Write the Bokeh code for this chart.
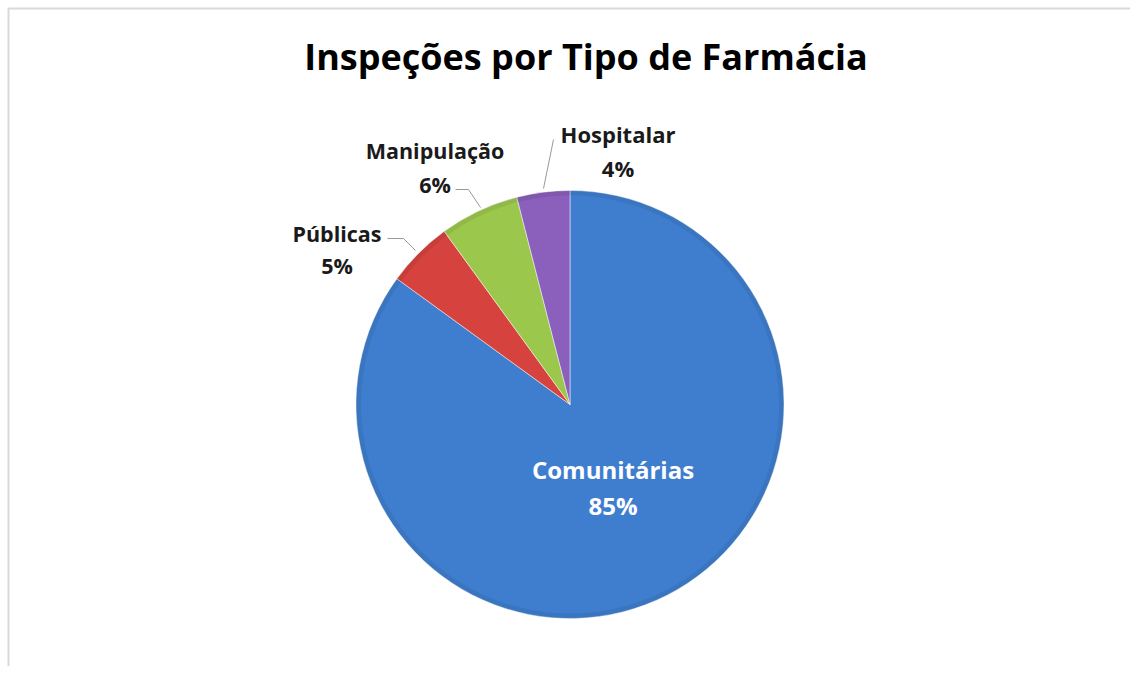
import numpy as np
from bokeh.plotting import figure
from bokeh.models import ColumnDataSource, Range1d
from bokeh.core.properties import value
from bokeh.embed import file_html
from bokeh.resources import INLINE

# ---- data ----
categories = ["Comunitárias", "Públicas", "Manipulação", "Hospitalar"]
percents = [85, 5, 6, 4]
colors = ["#3F7ECF", "#D6433E", "#9CC74D", "#8A60BC"]
title_text = "Inspeções por Tipo de Farmácia"

W, H = 1130, 666
p = figure(width=W, height=H, output_backend="svg", toolbar_location=None,
           x_range=Range1d(0, W), y_range=Range1d(0, H), min_border=0)
p.axis.visible = False
p.grid.visible = False
p.outline_line_color = None
p.background_fill_color = "white"


def Y(ys):
    """screen-style y (from top) -> data y"""
    return H - ys


# frame (left/top only, as in the reference)
p.line([8, 8, W], [0, Y(8), Y(8)], line_color="#D9D9D9", line_width=2)

# pie geometry
cx, cy, r = 569.5, Y(404), 214
frac = np.array(percents, dtype=float) / sum(percents)
cum = np.concatenate([[0], np.cumsum(frac)])
start = np.pi / 2 - cum[:-1] * 2 * np.pi
end = np.pi / 2 - cum[1:] * 2 * np.pi

src = ColumnDataSource(dict(start=start, end=end, color=colors, cat=categories))
p.wedge(x=cx, y=cy, radius=r, start_angle="start", end_angle="end",
        direction="clock", fill_color="color", line_color="white",
        line_width=0.8, line_alpha=0.6, source=src)

# subtle darker rim for an Excel-like bevel
p.annular_wedge(x=cx, y=cy, inner_radius=r - 5, outer_radius=r, start_angle="start",
                end_angle="end", direction="clock", fill_color="black",
                fill_alpha=0.07, line_color=None, source=src)

# title
p.text(x=[585.5], y=[Y(56)], text=[title_text], text_align="center",
       text_baseline="middle", text_font=value("Open Sans"), text_font_style="bold",
       text_font_size="36px", text_color="#000000")

# labels (layout: centre of first and second line, from top-left)
lab_x = [612.5, 336.5, 434.5, 617.5]
lab_y1 = [468.5, 233, 150, 133.5]
lab_y2 = [504.5, 265, 184, 167]
lab_size = ["24px", "21.5px", "21.5px", "22px"]
lab_color = ["white", "#1a1a1a", "#1a1a1a", "#1a1a1a"]
for i, cat in enumerate(categories):
    p.text(x=[lab_x[i], lab_x[i]], y=[Y(lab_y1[i]), Y(lab_y2[i])],
           text=[cat, f"{percents[i]}%"],
           text_align="center", text_baseline="middle",
           text_font=value("Open Sans"), text_font_style="bold",
           text_font_size=lab_size[i], text_color=lab_color[i])

# leader lines
lc = "#999999"
p.line([387, 403, 415], [Y(238), Y(238), Y(250)], line_color=lc, line_width=1)
p.line([455, 468, 480], [Y(189), Y(189), Y(207)], line_color=lc, line_width=1)
p.line([553, 543], [Y(139), Y(188)], line_color=lc, line_width=1)

open("out.html", "w").write(file_html(p, INLINE))
